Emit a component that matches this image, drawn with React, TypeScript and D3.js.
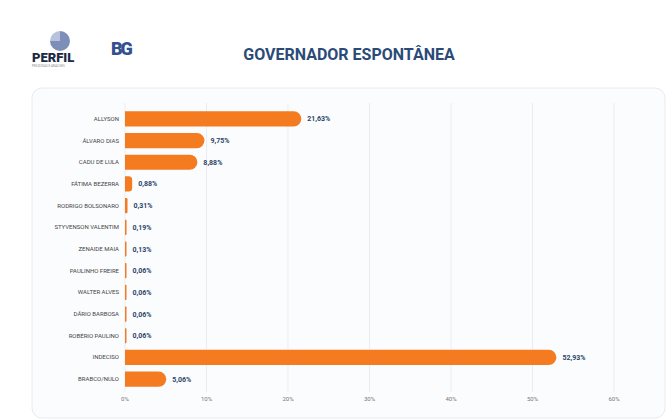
import React from 'react';
import * as d3 from 'd3';

const names = ['ALLYSON', 'ÁLVARO DIAS', 'CADU DE LULA', 'FÁTIMA BEZERRA', 'RODRIGO BOLSONARO', 'STYVENSON VALENTIM', 'ZENAIDE MAIA', 'PAULINHO FREIRE', 'WALTER ALVES', 'DÁRIO BARBOSA', 'ROBÉRIO PAULINO', 'INDECISO', 'BRABCO/NULO'];
const values = [21.63, 9.75, 8.88, 0.88, 0.31, 0.19, 0.13, 0.06, 0.06, 0.06, 0.06, 52.93, 5.06];
const ticks = [0, 10, 20, 30, 40, 50, 60];

const fmt = (v: number) => v.toFixed(2).replace('.', ',') + '%';

export default function App() {
  const x = d3.scaleLinear().domain([0, 60]).range([125, 614]);
  const y = d3.scaleBand<string>().domain(names).range([108, 390]).paddingInner(0.3).paddingOuter(0.15);
  const bh = y.bandwidth();
  const font = 'Roboto, Arial, sans-serif';
  return (
    <svg width={667} height={420} style={{ position: 'absolute', left: 0, top: 0 }} fontFamily={font}>
      <rect width={667} height={420} fill="#fff" />
      {/* logos */}
      <path d="M60,31 A10,10 0 1,1 50,41 L60,41 Z" fill="#7d8fb8" />
      <path d="M60,31 L60,41 L50,41 A10,10 0 0,1 60,31 Z" fill="#b7c2dc" />
      <text x={32} y={62} fontSize={13} fontWeight={900} fill="#1b2a44">PERFIL</text>
      <text x={32} y={67} fontSize={3} fill="#888">PESQUISAS E ANÁLISES</text>
      <text x={111} y={55} fontSize={18} fontWeight={900} fill="#33508f" letterSpacing={-2}>BG</text>
      <text x={349} y={60} fontSize={16} fontWeight={700} fill="#2b4a78" textAnchor="middle">GOVERNADOR ESPONTÂNEA</text>
      <rect x={32} y={88} width={633} height={330} rx={10} fill="#fbfcfe" stroke="#e6eaf0" />
      {ticks.map(t => (
        <g key={t}>
          <line x1={x(t)} x2={x(t)} y1={103} y2={392} stroke="#e9edf3" />
          <text x={x(t)} y={401} fontSize={6} fill="#777" textAnchor="middle">{t}%</text>
        </g>
      ))}
      {names.map((n, i) => {
        const yy = y(n)!;
        const w = Math.max(x(values[i]) - x(0), 1.5);
        const r = Math.min(bh / 2, w / 2);
        return (
          <g key={n}>
            <text x={119} y={yy + bh / 2 + 2} fontSize={6} fill="#444" textAnchor="end">{n}</text>
            <path d={`M${x(0)},${yy} h${w - r} a${r},${r} 0 0 1 ${r},${r} v${bh - 2 * r} a${r},${r} 0 0 1 ${-r},${r} h${-(w - r)} Z`} fill="#f47b20" />
            <text x={x(0) + w + 6} y={yy + bh / 2 + 2.5} fontSize={7} fontWeight={700} fill="#2c4468">{fmt(values[i])}</text>
          </g>
        );
      })}
    </svg>
  );
}
